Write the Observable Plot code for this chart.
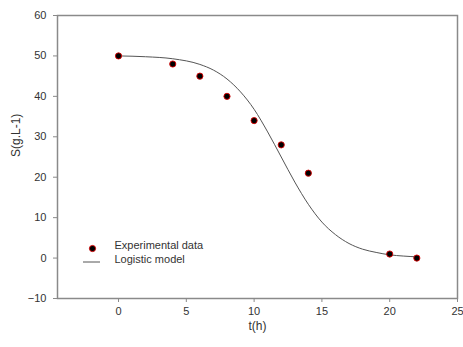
<!DOCTYPE html>
<html>
<head>
<meta charset="utf-8">
<script src="https://cdn.jsdelivr.net/npm/d3@7"></script>
<script src="https://cdn.jsdelivr.net/npm/@observablehq/plot@0.6"></script>
<style>
  html, body { margin: 0; padding: 0; background: #fff; }
</style>
</head>
<body>
<div id="chart"></div>
<script>
const expT = [0, 4, 6, 8, 10, 12, 14, 20, 22];
const expS = [50, 48, 45, 40, 34, 28, 21, 1, 0];

// Logistic model curve
const modelT = [0, 2, 4, 6, 7, 8, 9, 10, 11, 12, 13, 14, 15, 16, 17, 18, 19, 20, 21, 22];
const modelS = [50.0, 49.8, 49.3, 47.9, 46.5, 44.3, 41.1, 36.8, 31.2, 25.0, 18.8, 13.3, 8.9, 5.8, 3.6, 2.2, 1.4, 0.8, 0.5, 0.3];

const xTicks = [0, 5, 10, 15, 20, 25];
const yTicks = [-10, 0, 10, 20, 30, 40, 50, 60];
const xLabel = "t(h)";
const yLabel = "S(g.L-1)";
const legendLabels = ["Experimental data", "Logistic model"];

const expData = expT.map((t, i) => ({t, s: expS[i]}));
const modelData = modelT.map((t, i) => ({t, s: modelS[i]}));

const axisColor = "#8a8a8a";
const textColor = "#333";
const W = 463, H = 347, ML = 57, MR = 6, MT = 15, MB = 49;

const chart = Plot.plot({
  width: W,
  height: H,
  marginLeft: ML,
  marginRight: MR,
  marginTop: MT,
  marginBottom: MB,
  style: {fontFamily: "'Liberation Sans', Arial, sans-serif", fontSize: "11px", background: "#fff", color: textColor},
  x: {domain: [-4.5, 25]},
  y: {domain: [-10, 60]},
  marks: [
    Plot.frame({stroke: axisColor, strokeWidth: 1.5}),
    Plot.axisX({ticks: xTicks, tickSize: 4, tickPadding: 5, stroke: axisColor, fill: textColor, label: null}),
    Plot.axisY({ticks: yTicks, tickSize: 4, tickPadding: 7, stroke: axisColor, fill: textColor, label: null}),
    Plot.text([xLabel], {frameAnchor: "bottom", dy: 31, text: d => d, fontSize: 12, fill: textColor}),
    Plot.text([yLabel], {frameAnchor: "left", dx: -41, rotate: -90, text: d => d, fontSize: 12, fill: textColor}),
    Plot.line(modelData, {x: "t", y: "s", curve: "monotone-x", stroke: "#555", strokeWidth: 1}),
    Plot.dot(expData, {x: "t", y: "s", r: 3.1, fill: "#000", stroke: "#d00", strokeWidth: 0.9}),
    // legend
    Plot.dot([legendLabels[0]], {frameAnchor: "bottom-left", dx: 35, dy: -50, r: 3.1, fill: "#000", stroke: "#d00", strokeWidth: 0.9}),
    Plot.text([legendLabels[0]], {frameAnchor: "bottom-left", dx: 57, dy: -50, text: d => d, textAnchor: "start", fill: textColor}),
    Plot.text([legendLabels[1]], {frameAnchor: "bottom-left", dx: 57, dy: -36, text: d => d, textAnchor: "start", fill: textColor})
  ]
});
document.getElementById("chart").appendChild(chart);

// legend line sample next to the "Logistic model" label
d3.select(chart).append("line")
  .attr("x1", ML + 26).attr("x2", ML + 43)
  .attr("y1", H - MB - 36).attr("y2", H - MB - 36)
  .attr("stroke", "#555").attr("stroke-width", 1);
</script>
</body>
</html>
